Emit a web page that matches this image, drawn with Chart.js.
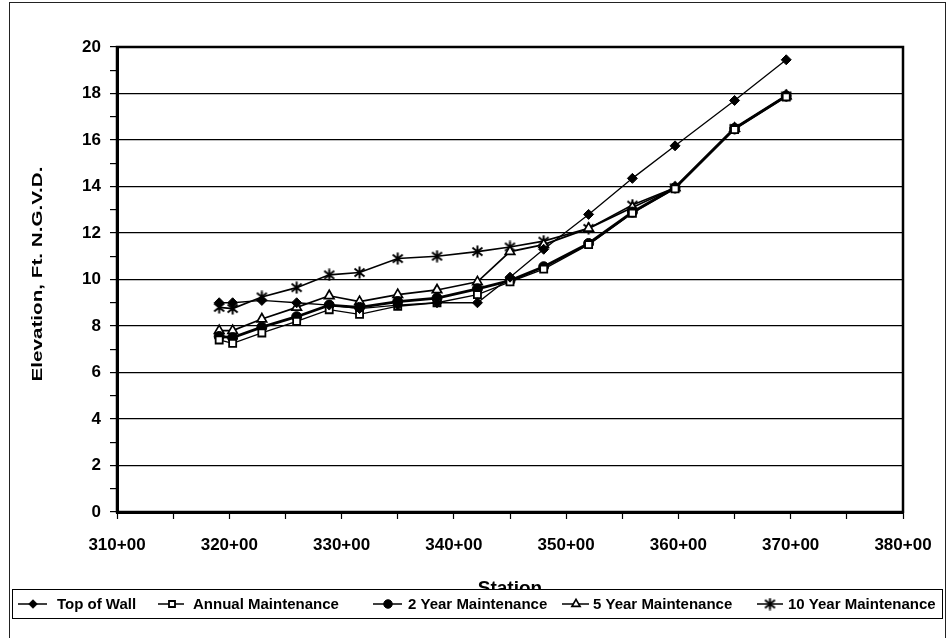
<!DOCTYPE html>
<html><head><meta charset="utf-8">
<script src="https://cdn.jsdelivr.net/npm/chart.js@4"></script>
<style>html,body{margin:0;padding:0;background:#fff}#wrap{width:952px;height:638px;position:relative;overflow:hidden}</style>
</head><body><div id="wrap"><canvas id="c" width="952" height="638"></canvas></div>
<script>
// Station (hundreds of feet) for each observation
const stations = [319.1, 320.3, 322.9, 326.0, 328.9, 331.6, 335.0, 338.5, 342.1, 345.0, 348.0, 352.0, 355.9, 359.7, 365.0, 369.6];
const topOfWall = [9.0, 9.0, 9.1, 9.0, 8.9, 8.75, 8.9, 9.0, 9.0, 10.1, 11.3, 12.8, 14.35, 15.75, 17.7, 19.45];
const annualMaint = [7.4, 7.25, 7.7, 8.2, 8.7, 8.5, 8.85, 9.0, 9.35, 9.9, 10.45, 11.5, 12.85, 13.9, 16.45, 17.85];
const twoYearMaint = [7.55, 7.5, 7.95, 8.4, 8.9, 8.8, 9.05, 9.2, 9.6, 9.95, 10.55, 11.55, 12.9, 13.95, 16.5, 17.9];
const fiveYearMaint = [7.8, 7.8, 8.3, 8.8, 9.3, 9.05, 9.35, 9.55, 9.9, 11.2, 11.5, 12.2, 13.1, 13.95, 16.5, 17.9];
const tenYearMaint = [8.8, 8.75, 9.25, 9.65, 10.2, 10.3, 10.9, 11.0, 11.2, 11.4, 11.65, 12.2, 13.2, 13.95, 16.5, 17.9];
const seriesNames = ['Top of Wall', 'Annual Maintenance', '2 Year Maintenance', '5 Year Maintenance', '10 Year Maintenance'];
const xTitle = 'Station';
const yTitle = 'Elevation, Ft. N.G.V.D.';

function pts(vals){ return stations.map((s,i)=>({x:s, y:vals[i]})); }

// asterisk marker (vertical bar + X)
const ast = document.createElement('canvas');
ast.width = 13; ast.height = 13;
(function(){
  const c = ast.getContext('2d');
  c.strokeStyle = '#000'; c.lineWidth = 2;
  c.beginPath();
  c.moveTo(6.5,0.5); c.lineTo(6.5,12.5);
  c.moveTo(1.5,2.5); c.lineTo(11.5,10.5);
  c.moveTo(11.5,2.5); c.lineTo(1.5,10.5);
  c.stroke();
})();

const FONT = "'Liberation Sans', Arial, sans-serif";

const styles = [
  {borderWidth:1.3, pointStyle:'rectRot', pointRadius:5, pointBackgroundColor:'#000', pointBorderWidth:1},
  {borderWidth:1.3, pointStyle:'rect', pointRadius:5, pointBackgroundColor:'#fff', pointBorderWidth:1.8},
  {borderWidth:2.8, pointStyle:'circle', pointRadius:5, pointBackgroundColor:'#000', pointBorderWidth:1},
  {borderWidth:1.7, pointStyle:'triangle', pointRadius:5.5, pointBackgroundColor:'#fff', pointBorderWidth:1.7},
  {borderWidth:1.6, pointStyle:ast, pointRadius:6, pointBackgroundColor:'#000', pointBorderWidth:1}
];
const seriesVals = [topOfWall, annualMaint, twoYearMaint, fiveYearMaint, tenYearMaint];

const datasets = seriesVals.map((v,i)=>Object.assign({
  label: seriesNames[i], data: pts(v), borderColor:'#000', pointBorderColor:'#000',
  tension:0, fill:false, pointHoverRadius:5
}, styles[i]));

const framePlugin = {
  id:'frame',
  beforeDatasetsDraw(chart){
    const {ctx, chartArea:a} = chart;
    ctx.save();
    ctx.strokeStyle = '#000'; ctx.lineWidth = 2.5;
    ctx.strokeRect(a.left, a.top, a.right - a.left, a.bottom - a.top);
    ctx.restore();
  },
  afterDraw(chart){
    const ctx = chart.ctx;
    ctx.save();
    // y-axis title (stretched along its length like the scanned original)
    ctx.save();
    ctx.font = "bold 15px " + FONT;
    const w = ctx.measureText(yTitle).width;
    ctx.translate(38, 274);
    ctx.rotate(-Math.PI/2);
    ctx.scale(215 / w, 1);
    ctx.fillStyle = '#000'; ctx.textAlign = 'center'; ctx.textBaseline = 'middle';
    ctx.fillText(yTitle, 0, 0);
    ctx.restore();
    // outer chart frame
    ctx.strokeStyle = '#222'; ctx.lineWidth = 1;
    ctx.strokeRect(9.5, 2.5, 936, 700);
    // legend box
    ctx.fillStyle = '#fff';
    ctx.fillRect(12, 589, 931, 30);
    ctx.strokeStyle = '#000';
    ctx.strokeRect(12.5, 589.5, 930, 29);
    const pos = [
      {l1:18, l2:47, m:33, t:57},
      {l1:158, l2:184, m:172, t:193},
      {l1:373, l2:402, m:388, t:408},
      {l1:562, l2:589, m:576, t:593},
      {l1:757, l2:783, m:770, t:788}
    ];
    const y = 604;
    chart.data.datasets.forEach((ds,i)=>{
      const p = pos[i];
      ctx.strokeStyle = '#000'; ctx.lineWidth = 1.5;
      ctx.beginPath(); ctx.moveTo(p.l1, y); ctx.lineTo(p.l2, y); ctx.stroke();
      ctx.fillStyle = ds.pointBackgroundColor; ctx.strokeStyle = '#000';
      ctx.lineWidth = ds.pointBorderWidth;
      Chart.helpers.drawPoint(ctx, {pointStyle: ds.pointStyle, rotation:0, radius: ds.pointRadius * 0.85, borderWidth: ds.pointBorderWidth}, p.m, y);
      ctx.fillStyle = '#000';
      ctx.font = "bold 15px " + FONT;
      ctx.textBaseline = 'middle'; ctx.textAlign = 'left';
      ctx.fillText(ds.label, p.t, y + 1);
    });
    ctx.restore();
  }
};

new Chart(document.getElementById('c'), {
  type:'line',
  data:{datasets},
  options:{
    responsive:false, animation:false, devicePixelRatio:1,
    layout:{padding:{left:0, right:49, top:47, bottom:0}},
    plugins:{legend:{display:false}, tooltip:{enabled:false}},
    scales:{
      x:{
        type:'linear', position:'bottom', min:310, max:380,
        ticks:{stepSize:5, autoSkip:false, maxRotation:0, color:'#000', padding:16,
          font:{family:FONT, size:17, weight:'bold'},
          callback:v => (v % 10 === 0) ? v + '+00' : ''},
        grid:{drawOnChartArea:false, tickLength:7, tickColor:'#000', tickWidth:1.2},
        border:{width:3, color:'#000'},
        title:{display:true, text:xTitle, color:'#000', font:{family:FONT, size:19, weight:'bold'}, padding:{top:0, bottom:38}},
        afterFit:s => { s.height = 126; }
      },
      y:{
        min:0, max:20,
        ticks:{stepSize:1, autoSkip:false, color:'#000', padding:9,
          font:{family:FONT, size:17, weight:'bold'},
          callback:v => (v % 2 === 0) ? String(v) : ''},
        grid:{tickLength:7, tickColor:'#000', tickWidth:1.2, lineWidth:1.2,
          color:ctx => (ctx.tick && ctx.tick.value % 2 === 0) ? '#000' : 'rgba(0,0,0,0)'},
        border:{width:3, color:'#000'},
        title:{display:false},
        afterFit:s => { s.width = 117; }
      }
    }
  },
  plugins:[framePlugin]
});
</script>
</body></html>
